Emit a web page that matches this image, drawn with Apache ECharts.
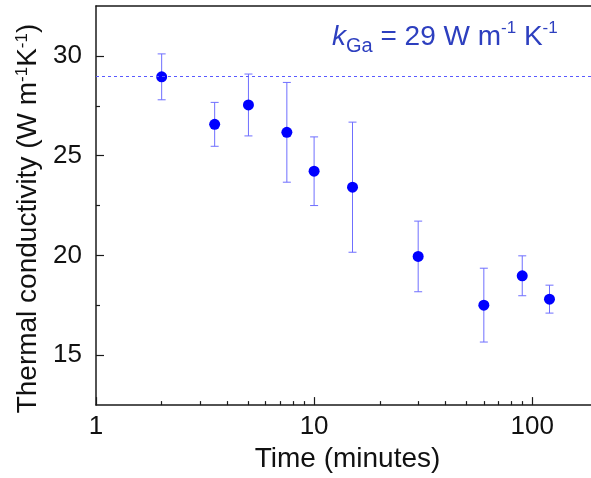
<!DOCTYPE html>
<html>
<head>
<meta charset="utf-8">
<script src="https://cdn.jsdelivr.net/npm/echarts@6/dist/echarts.min.js"></script>
<style>
html,body{margin:0;padding:0;background:#fff;}
#chart{width:591px;height:478px;}
</style>
</head>
<body>
<div id="chart"></div>
<script>
// Data
var times = [2, 3.5, 5, 7.5, 10, 15, 30, 60, 90, 120];          // minutes
var kValues = [28.95, 26.57, 27.54, 26.17, 24.22, 23.42, 19.95, 17.51, 18.98, 17.81];
var kErrors = [1.15, 1.10, 1.55, 2.50, 1.72, 3.26, 1.77, 1.85, 1.00, 0.70];
var kGa = 29;
var yMajorTicks = [15, 20, 25, 30];
var yMinorTicks = [17.5, 22.5, 27.5];
var xMajorTicks = [1, 10, 100];
var xMinorTicks = [2, 3, 4, 5, 6, 7, 8, 9, 20, 30, 40, 50, 60, 70, 80, 90];

var FONT = '"Liberation Sans", Arial, sans-serif';
var pts = times.map(function (t, i) { return [t, kValues[i]]; });
var bars = times.map(function (t, i) { return [t, kValues[i] - kErrors[i], kValues[i] + kErrors[i]]; });

var chart = echarts.init(document.getElementById('chart'), null, {renderer: 'canvas'});
var axisLineStyle = {color: '#1a1a1a', width: 1.5};
var xCommon = {type: 'log', logBase: 10, min: 1, max: 186, gridIndex: 0, splitLine: {show: false}};
var yCommon = {type: 'value', min: 12.5, max: 32.5, gridIndex: 0, splitLine: {show: false}};
var BLUE_TXT = '#2d3fbf';

chart.setOption({
  animation: false,
  backgroundColor: '#ffffff',
  grid: {left: 96, right: 0, top: 6, bottom: 67},
  xAxis: [
    Object.assign({}, xCommon, {
      position: 'bottom',
      axisLine: {show: true, lineStyle: axisLineStyle},
      axisTick: {show: true, inside: true, length: 8, customValues: xMajorTicks, lineStyle: {color: '#1a1a1a', width: 1.2}},
      axisLabel: {show: true, customValues: xMajorTicks, fontSize: 26, color: '#111', fontFamily: FONT, margin: 9},
      name: 'Time (minutes)', nameLocation: 'middle', nameGap: 36,
      nameTextStyle: {fontSize: 28, color: '#111', fontFamily: FONT, padding: [0, 0, 0, 8]}
    }),
    Object.assign({}, xCommon, {
      position: 'bottom',
      axisLine: {show: false},
      axisTick: {show: true, inside: true, length: 4, customValues: xMinorTicks, lineStyle: {color: '#1a1a1a', width: 1.2}},
      axisLabel: {show: false}
    }),
    Object.assign({}, xCommon, {
      position: 'top',
      axisLine: {show: true, lineStyle: axisLineStyle},
      axisTick: {show: false},
      axisLabel: {show: false}
    })
  ],
  yAxis: [
    Object.assign({}, yCommon, {
      position: 'left',
      axisLine: {show: true, lineStyle: axisLineStyle},
      axisTick: {show: true, inside: true, length: 8, customValues: yMajorTicks, lineStyle: {color: '#1a1a1a', width: 1.2}},
      axisLabel: {show: true, customValues: yMajorTicks, fontSize: 26, color: '#111', fontFamily: FONT, margin: 14},
      name: '{n|Thermal conductivity (W m}{s|-1}{n|K}{s|-1}{n|)}',
      nameLocation: 'middle', nameGap: 52, nameRotate: 90,
      nameTextStyle: {
        fontSize: 28, color: '#111', fontFamily: FONT, padding: [0, 26, 0, 0],
        rich: {
          n: {fontSize: 28, color: '#111', fontFamily: FONT, lineHeight: 32, verticalAlign: 'bottom'},
          s: {fontSize: 17, color: '#111', fontFamily: FONT, lineHeight: 32, verticalAlign: 'bottom', padding: [0, 0, 11, 0]}
        }
      }
    }),
    Object.assign({}, yCommon, {
      position: 'left',
      axisLine: {show: false},
      axisTick: {show: true, inside: true, length: 4, customValues: yMinorTicks, lineStyle: {color: '#1a1a1a', width: 1.2}},
      axisLabel: {show: false}
    })
  ],
  graphic: [{
    type: 'text',
    left: 332, top: 20,
    style: {
      text: '{k|k}{sub|Ga}{n| = 29 W m}{sup|-1}{n| K}{sup|-1}',
      rich: {
        k: {fontSize: 28, fontStyle: 'italic', fill: BLUE_TXT, fontFamily: FONT, lineHeight: 30, verticalAlign: 'bottom', padding: [0, 0, 8, 0]},
        n: {fontSize: 28, fill: BLUE_TXT, fontFamily: FONT, lineHeight: 30, verticalAlign: 'bottom', padding: [0, 0, 8, 0]},
        sub: {fontSize: 20, fill: BLUE_TXT, fontFamily: FONT, lineHeight: 20, verticalAlign: 'bottom', padding: [0, 0, 3, 0]},
        sup: {fontSize: 17, fill: BLUE_TXT, fontFamily: FONT, lineHeight: 17, verticalAlign: 'bottom', padding: [0, 0, 22, 0]}
      }
    }
  }],
  series: [
    {
      type: 'custom',
      xAxisIndex: 0, yAxisIndex: 0,
      data: bars,
      z: 2,
      renderItem: function (params, api) {
        var x = api.value(0);
        var lo = api.coord([x, api.value(1)]);
        var hi = api.coord([x, api.value(2)]);
        var hw = 4;
        var st = {stroke: '#6f6fff', lineWidth: 1};
        return {
          type: 'group',
          children: [
            {type: 'line', shape: {x1: lo[0], y1: lo[1], x2: hi[0], y2: hi[1]}, style: st},
            {type: 'line', shape: {x1: lo[0] - hw, y1: lo[1], x2: lo[0] + hw, y2: lo[1]}, style: st},
            {type: 'line', shape: {x1: hi[0] - hw, y1: hi[1], x2: hi[0] + hw, y2: hi[1]}, style: st}
          ]
        };
      }
    },
    {
      type: 'scatter',
      xAxisIndex: 0, yAxisIndex: 0,
      data: pts,
      symbol: 'circle',
      symbolSize: 11,
      itemStyle: {color: '#0000ff', opacity: 1},
      z: 3,
      markLine: {
        silent: true,
        symbol: 'none',
        label: {show: false},
        lineStyle: {color: '#5a5aff', type: [3, 3], width: 1},
        data: [{yAxis: kGa}]
      }
    }
  ]
});
</script>
</body>
</html>
